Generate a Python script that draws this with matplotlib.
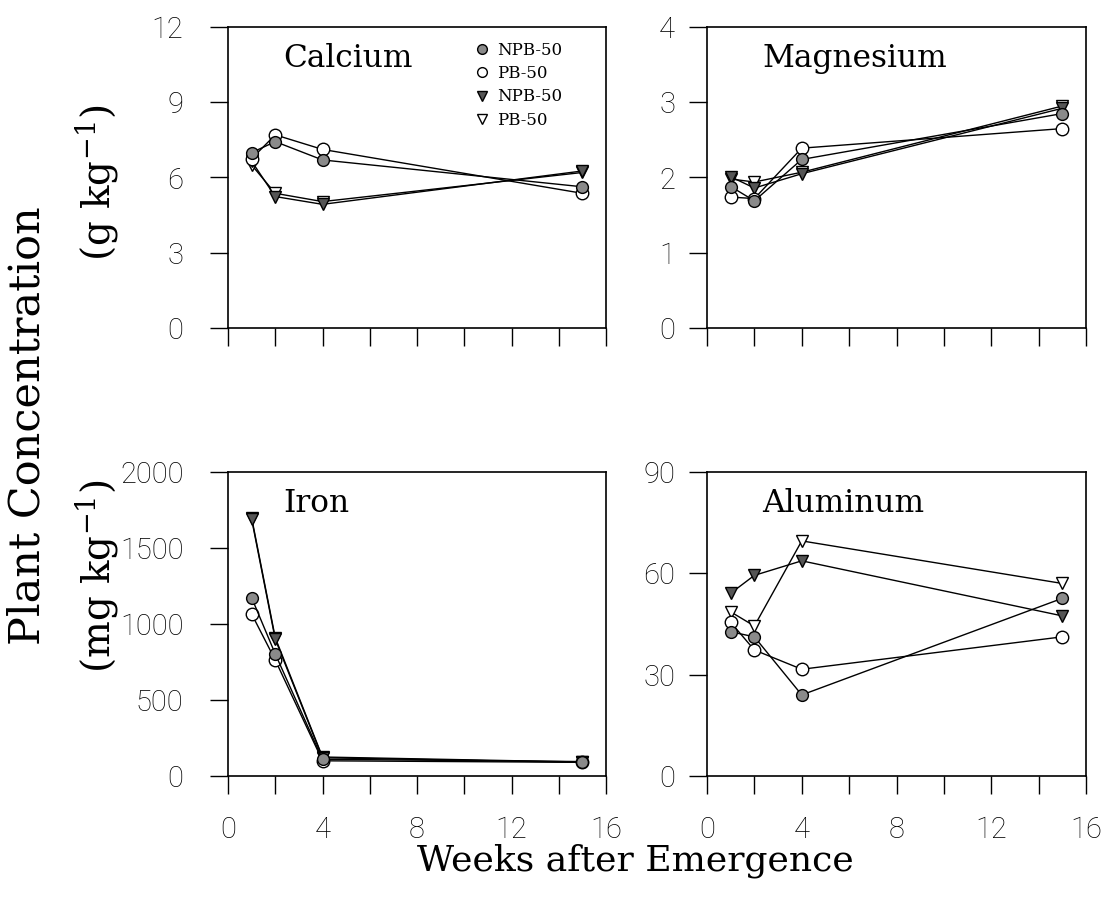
import matplotlib
matplotlib.use("Agg")
import matplotlib.pyplot as plt
from matplotlib.lines import Line2D

plt.rcParams['mathtext.fontset'] = 'dejavuserif'

weeks = [1, 2, 4, 15]
series_labels = ['NPB-50', 'PB-50', 'NPB-50', 'PB-50']

# calcium, g/kg
ca_npb_circ = [6.99, 7.43, 6.70, 5.63]
ca_pb_circ = [6.75, 7.70, 7.12, 5.37]
ca_npb_tri = [6.65, 5.24, 4.93, 6.26]
ca_pb_tri = [6.50, 5.37, 5.04, 6.20]

# magnesium, g/kg
mg_npb_circ = [1.88, 1.69, 2.24, 2.85]
mg_pb_circ = [1.74, 1.72, 2.39, 2.65]
mg_npb_tri = [2.01, 1.86, 2.05, 2.92]
mg_pb_tri = [1.98, 1.94, 2.07, 2.95]

# iron, mg/kg
fe_npb_circ = [1173, 803, 110, 95]
fe_pb_circ = [1066, 763, 100, 90]
fe_npb_tri = [1690, 900, 120, 90]
fe_pb_tri = [1700, 910, 125, 92]

# aluminum, mg/kg
al_npb_circ = [42.7, 41.2, 24.0, 52.6]
al_pb_circ = [45.5, 37.3, 31.6, 41.2]
al_npb_tri = [54.1, 59.4, 63.7, 47.4]
al_pb_tri = [48.6, 44.4, 69.6, 57.0]

ca_ticks = [0, 3, 6, 9, 12]
mg_ticks = [0, 1, 2, 3, 4]
fe_ticks = [0, 500, 1000, 1500, 2000]
al_ticks = [0, 30, 60, 90]
week_ticks = [0, 4, 8, 12, 16]

serif = 'DejaVu Serif'
tick_font = ['Roboto', 'DejaVu Sans']

# marker styles: filled circle, open circle, filled triangle, open triangle
styles = [
    dict(marker='o', mfc='#8a8a8a', ms=8.5),
    dict(marker='o', mfc='white', ms=9),
    dict(marker='v', mfc='#555555', ms=8.5),
    dict(marker='v', mfc='white', ms=8.5),
]
draw_order = [3, 2, 1, 0]

fig = plt.figure(figsize=(11.09, 8.97), dpi=100)
W, H = 1109, 897


def make_axes(x0, y0, x1, y1):
    return fig.add_axes([x0 / W, 1 - y1 / H, (x1 - x0) / W, (y1 - y0) / H])


axes = [
    make_axes(228, 27, 606, 328),
    make_axes(707, 27, 1086, 328),
    make_axes(228, 472, 606, 776),
    make_axes(707, 472, 1086, 776),
]

panels = [
    ('Calcium', [ca_npb_circ, ca_pb_circ, ca_npb_tri, ca_pb_tri], ca_ticks),
    ('Magnesium', [mg_npb_circ, mg_pb_circ, mg_npb_tri, mg_pb_tri], mg_ticks),
    ('Iron', [fe_npb_circ, fe_pb_circ, fe_npb_tri, fe_pb_tri], fe_ticks),
    ('Aluminum', [al_npb_circ, al_pb_circ, al_npb_tri, al_pb_tri], al_ticks),
]

for i, (ax, (name, data, yt)) in enumerate(zip(axes, panels)):
    for k in draw_order:
        st = styles[k]
        ax.plot(weeks, data[k], color='black', lw=1.0, marker=st['marker'],
                mfc=st['mfc'], mec='black', mew=1.0, ms=st['ms'], clip_on=False)
    ax.set_xlim(0, 16)
    ax.set_ylim(yt[0], yt[-1])
    ax.set_yticks(yt)
    ax.set_xticks(range(0, 17, 2))
    if i >= 2:
        ax.set_xticklabels([str(w) if w in week_ticks else '' for w in range(0, 17, 2)])
    else:
        ax.set_xticklabels([])
    ax.tick_params(direction='out', length=13, width=1.0, labelsize=21)
    ax.tick_params(axis='x', pad=16)
    ax.tick_params(axis='y', pad=19 if i % 2 == 0 else 10)
    for lab in ax.get_xticklabels() + ax.get_yticklabels():
        lab.set_family(tick_font)
        lab.set_fontweight('light')
    for sp in ax.spines.values():
        sp.set_linewidth(1.2)
    ax.text(0.146, 0.867, name, transform=ax.transAxes, family=serif,
            fontsize=22.5, va='baseline', ha='left')

handles = [Line2D([], [], ls='none', marker=s['marker'], mfc=s['mfc'], mec='black',
                  mew=1.0, ms=7) for s in styles]
axes[0].legend(handles, series_labels, loc='upper left', bbox_to_anchor=(0.62, 0.99),
               frameon=False, prop={'family': serif, 'size': 12},
               handletextpad=0.4, labelspacing=0.38, borderpad=0.2, handlelength=1.0)

fig.text(0.025, 0.526, 'Plant Concentration', rotation=90, family=serif,
         fontsize=31, ha='center', va='center')
fig.text(0.088, 0.796, r'(g kg$^{-1}$)', rotation=90, family=serif,
         fontsize=28, ha='center', va='center')
fig.text(0.088, 0.357, r'(mg kg$^{-1}$)', rotation=90, family=serif,
         fontsize=28, ha='center', va='center')
fig.text(0.573, 0.029, 'Weeks after Emergence', family=serif, fontsize=26,
         ha='center', va='baseline')

fig.savefig('out.png', dpi=100)
